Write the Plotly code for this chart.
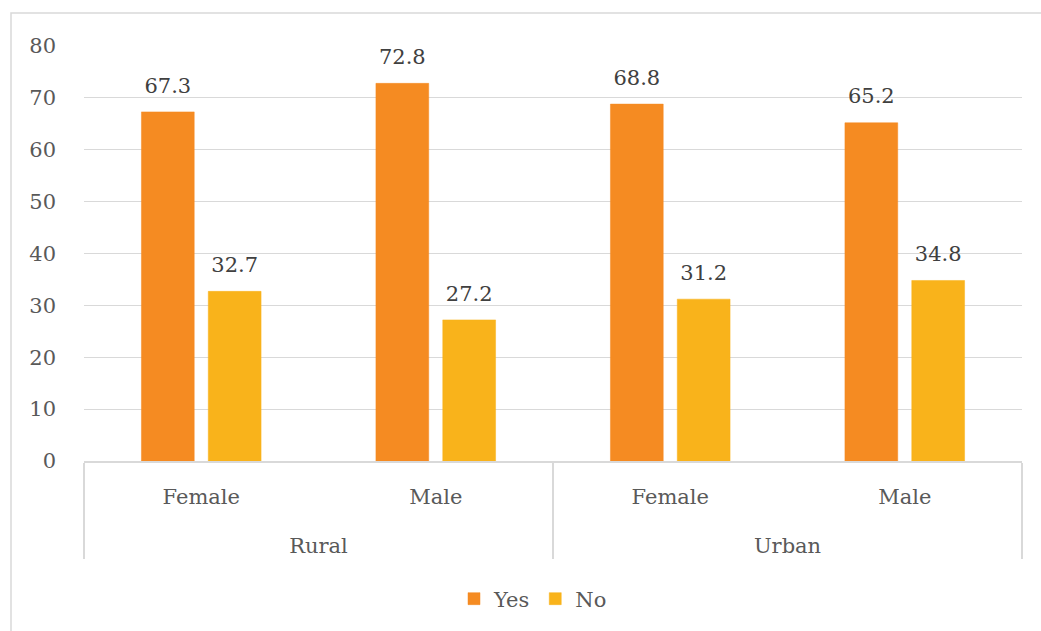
import plotly.graph_objects as go

# Survey answers by area and sex (percent)
areas = ["Rural", "Rural", "Urban", "Urban"]
sexes = ["Female", "Male", "Female", "Male"]
yes_pct = [67.3, 72.8, 68.8, 65.2]
no_pct = [32.7, 27.2, 31.2, 34.8]
y_ticks = [0, 10, 20, 30, 40, 50, 60, 70, 80]

FONT = "DejaVu Serif"
TEXT = "#595959"
GRID = "#d9d9d9"
YES_COLOR = "#F58B22"
NO_COLOR = "#F9B31B"

W, H = 1041, 631
L, R, T, B = 84, 19, 46, 170
pw, ph = W - L - R, H - T - B

# inner labels carry a tall blank second line so the area row sits lower
sex_labels = [s + "<br><span style='font-size:54px'> </span>" for s in sexes]

fig = go.Figure()
for name, vals, col in [("Yes", yes_pct, YES_COLOR), ("No", no_pct, NO_COLOR)]:
    fig.add_trace(go.Bar(
        name=name, x=[areas, sex_labels], y=vals,
        marker=dict(color=col, line=dict(color=col, width=0.5)),
        hovertemplate="%{y}<extra>" + name + "</extra>",
    ))

# value labels, grouped the same way as the bars
for name, vals in [("Yes", yes_pct), ("No", no_pct)]:
    fig.add_trace(go.Scatter(
        x=[areas, sex_labels], y=vals, mode="markers+text",
        text=[f"{v:.1f}" for v in vals], textposition="top center",
        textfont=dict(family=FONT, size=21, color="#404040"),
        marker=dict(size=21, opacity=0),
        showlegend=False, hoverinfo="skip", name=name,
    ))

# chart frame
fig.add_shape(type="rect", xref="paper", yref="paper",
              x0=(11 - L) / pw, x1=1.2, y0=-0.6, y1=(H - B - 13) / ph,
              line=dict(color=GRID, width=1.5), fillcolor="rgba(0,0,0,0)", layer="below")

fig.update_layout(
    width=W, height=H,
    margin=dict(l=L, r=R, t=T, b=B, autoexpand=False),
    paper_bgcolor="white", plot_bgcolor="white",
    barmode="group", bargap=0.43, bargroupgap=0.21,
    scattermode="group", scattergap=0.43,
    font=dict(family=FONT, size=21, color=TEXT),
    legend=dict(orientation="h", x=(533 - L) / pw, xanchor="center",
                y=-(599 - (H - B)) / ph, yanchor="middle",
                font=dict(family=FONT, size=21, color=TEXT),
                itemwidth=30, traceorder="normal"),
    xaxis=dict(type="multicategory", showline=True, linecolor=GRID, linewidth=1.5,
               showdividers=True, dividercolor=GRID, dividerwidth=1.5,
               ticks="", ticklabelstandoff=16,
               tickfont=dict(family=FONT, size=21, color=TEXT)),
    yaxis=dict(range=[0, 80], tickvals=y_ticks, showgrid=True, gridcolor=GRID,
               gridwidth=1.3, zeroline=False, showline=False, ticks="",
               ticklabelstandoff=27,
               tickfont=dict(family=FONT, size=21, color=TEXT)),
)

fig.write_html("out.html")
